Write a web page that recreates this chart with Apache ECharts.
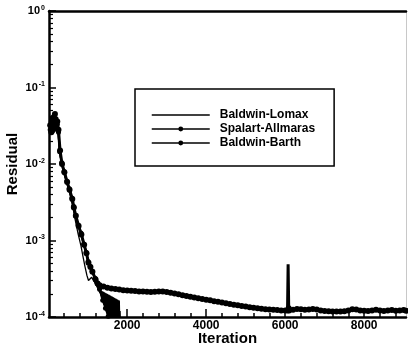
<!DOCTYPE html>
<html>
<head>
<meta charset="utf-8">
<script src="https://cdn.jsdelivr.net/npm/echarts@6/dist/echarts.min.js"></script>
<style>html,body{margin:0;padding:0;background:#fff;}#c{width:408px;height:349px;}</style>
</head>
<body>
<div id="c"></div>
<script>
// ---- data ----
const seriesNames = ['Baldwin-Lomax', 'Spalart-Allmaras', 'Baldwin-Barth'];
const xTickLabels = [2000, 4000, 6000, 8000];
const xMinorTicks = [400, 800, 1200, 1600, 2400, 2800, 3200, 3600, 4400, 4800, 5200, 5600, 6400, 6800, 7200, 7600, 8400, 8800];
const yDecades = [1e-4, 1e-3, 1e-2, 1e-1, 1];

const lomaxIter = [50, 70, 100, 130, 160, 190, 220, 250, 290, 340, 400, 470, 540, 610, 680, 760, 830, 880, 930, 980, 1020, 1060, 1100, 1150, 1200, 1240,
  1260, 1270, 1280, 1290, 1300, 1310, 1320, 1330, 1340, 1350, 1360, 1370, 1380, 1390, 1400, 1410, 1420, 1430, 1440, 1450, 1460, 1470, 1480, 1490, 1500, 1510, 1520, 1530,
  1540, 1550, 1560, 1570, 1580, 1590, 1600, 1610, 1620, 1630, 1640, 1650, 1660, 1670, 1680, 1690, 1700, 1710, 1720, 1730, 1740, 1750, 1760, 1770, 1780, 1790, 1800, 1810, 1820, 1830];
const lomaxRes = [3.5e-2, 2.5e-2, 3.8e-2, 2.6e-2, 3.4e-2, 2.7e-2, 3.7e-2, 2.5e-2, 1.4e-2, 1.0e-2, 7.5e-3, 5.6e-3, 4.2e-3, 3.0e-3, 1.9e-3, 1.2e-3, 8.5e-4, 6.2e-4, 4.6e-4, 3.5e-4, 3.0e-4, 3.1e-4, 3.3e-4, 3.0e-4, 2.7e-4, 2.6e-4,
  2.34e-4, 2.35e-4, 2.31e-4, 2.19e-4, 2.28e-4, 2.05e-4, 2.25e-4, 1.91e-4, 2.22e-4, 1.79e-4, 2.19e-4, 1.67e-4, 2.16e-4, 1.56e-4, 2.14e-4, 1.46e-4, 2.11e-4, 1.36e-4, 2.08e-4, 1.27e-4, 2.05e-4, 1.19e-4, 2.03e-4, 1.11e-4, 2.0e-4, 1.04e-4, 1.97e-4, 9e-5,
  1.95e-4, 9e-5, 1.92e-4, 9e-5, 1.9e-4, 9e-5, 1.87e-4, 9e-5, 1.85e-4, 9e-5, 1.82e-4, 9e-5, 1.8e-4, 9e-5, 1.77e-4, 9e-5, 1.75e-4, 9e-5, 1.73e-4, 9e-5, 1.71e-4, 9e-5, 1.68e-4, 9e-5, 1.66e-4, 9e-5, 1.64e-4, 9e-5, 1.2e-4, 8e-5];

const saIter = [50, 80, 110, 140, 170, 200, 230, 260, 290, 340, 400, 470, 530, 600, 640, 690, 760, 830, 900, 960, 1010, 1060, 1110, 1190, 1240, 1300, 1380, 1450, 1520, 1580];
const saRes = [2.8e-2, 3.6e-2, 2.7e-2, 4.2e-2, 3.1e-2, 3.9e-2, 3.3e-2, 2.6e-2, 1.45e-2, 1.05e-2, 8.0e-3, 6.0e-3, 4.8e-3, 3.6e-3, 2.8e-3, 2.1e-3, 1.6e-3, 1.25e-3, 9.0e-4, 7.0e-4, 5.3e-4, 4.6e-4, 4.0e-4, 3.2e-4, 2.8e-4, 2.3e-4, 1.65e-4, 1.3e-4, 1.02e-4, 8.5e-5];

const bbIter = [50, 80, 110, 140, 170, 200, 230, 260, 300, 350, 410, 480, 540, 610, 650, 700, 770, 840, 910, 970, 1020, 1070, 1120, 1200, 1250,
  1300, 1400, 1500, 1600, 1700, 1800, 1900, 2000, 2100, 2200, 2300, 2400, 2500, 2600, 2700, 2800, 2900, 3000, 3100, 3200, 3300, 3400, 3500, 3600, 3700, 3800, 3900,
  4000, 4100, 4200, 4300, 4400, 4500, 4600, 4700, 4800, 4900, 5000, 5100, 5200, 5300, 5400, 5500, 5600, 5700, 5800, 5900, 6000, 6060, 6075, 6090, 6100,
  6200, 6300, 6400, 6500, 6600, 6700, 6800, 6900, 7000, 7100, 7200, 7300, 7400, 7500, 7600, 7700, 7800, 7900, 8000, 8100, 8200, 8300, 8400, 8500, 8600, 8700, 8800, 8900, 9000, 9060];
const bbRes = [3.2e-2, 2.6e-2, 4.0e-2, 3.0e-2, 4.5e-2, 2.9e-2, 3.6e-2, 2.8e-2, 1.5e-2, 1.0e-2, 7.8e-3, 5.8e-3, 4.6e-3, 3.5e-3, 2.7e-3, 2.1e-3, 1.55e-3, 1.2e-3, 8.8e-4, 6.8e-4, 5.1e-4, 4.5e-4, 3.9e-4, 3.1e-4, 2.75e-4,
  2.6e-4, 2.5e-4, 2.42e-4, 2.36e-4, 2.32e-4, 2.28e-4, 2.24e-4, 2.22e-4, 2.2e-4, 2.18e-4, 2.16e-4, 2.15e-4, 2.14e-4, 2.13e-4, 2.14e-4, 2.16e-4, 2.15e-4, 2.12e-4, 2.08e-4, 2.03e-4, 1.98e-4, 1.93e-4, 1.88e-4, 1.84e-4, 1.8e-4, 1.76e-4, 1.72e-4,
  1.68e-4, 1.65e-4, 1.61e-4, 1.58e-4, 1.55e-4, 1.51e-4, 1.48e-4, 1.45e-4, 1.42e-4, 1.39e-4, 1.37e-4, 1.34e-4, 1.32e-4, 1.3e-4, 1.28e-4, 1.26e-4, 1.25e-4, 1.24e-4, 1.23e-4, 1.22e-4, 1.22e-4, 1.22e-4, 4.9e-4, 1.3e-4, 1.22e-4,
  1.24e-4, 1.27e-4, 1.26e-4, 1.24e-4, 1.25e-4, 1.27e-4, 1.25e-4, 1.22e-4, 1.2e-4, 1.19e-4, 1.18e-4, 1.18e-4, 1.18e-4, 1.19e-4, 1.22e-4, 1.26e-4, 1.25e-4, 1.22e-4, 1.21e-4, 1.2e-4, 1.22e-4, 1.24e-4, 1.22e-4, 1.2e-4, 1.22e-4, 1.23e-4, 1.21e-4, 1.22e-4, 1.23e-4, 1.21e-4];

// ---- build ----
const pairs = (xs, ys) => xs.map((x, i) => [x, ys[i]]);
const yMinor = [];
[-4, -3, -2, -1].forEach(d => { for (let k = 2; k <= 9; k++) yMinor.push(+(k * Math.pow(10, d)).toPrecision(3)); });

const FONT = 'Liberation Sans';
const chart = echarts.init(document.getElementById('c'), null, { renderer: 'canvas' });
const xCommon = { type: 'value', min: 20, max: 9060, splitLine: { show: false } };
const yCommon = { type: 'log', logBase: 10, min: 1e-4, max: 1, splitLine: { show: false } };

chart.setOption({
  animation: false,
  backgroundColor: '#fff',
  grid: { left: 49, right: 2, top: 11, bottom: 32, containLabel: false, outerBoundsMode: 'none' },
  legend: {
    data: [
      { name: seriesNames[0], itemStyle: { color: 'rgba(0,0,0,0)', borderWidth: 0 } },
      { name: seriesNames[1] },
      { name: seriesNames[2] }
    ],
    orient: 'vertical',
    left: 135, top: 89,
    itemWidth: 58, itemHeight: 6, itemGap: 0,
    padding: [19, 19, 16, 16],
    borderColor: '#000', borderWidth: 1.5,
    lineStyle: { width: 1.5 },
    textStyle: { fontFamily: FONT, fontWeight: 'bold', fontSize: 12, color: '#000', lineHeight: 14, padding: [0, 0, 0, 5] }
  },
  xAxis: [
    Object.assign({}, xCommon, {
      position: 'bottom',
      name: 'Iteration', nameLocation: 'middle', nameGap: 14, nameMoveOverlap: false,
      nameTextStyle: { fontFamily: FONT, fontWeight: 'bold', fontSize: 15, color: '#000' },
      axisLine: { show: true, lineStyle: { color: '#000', width: 2.5 } },
      axisTick: { show: true, inside: true, length: 8, customValues: xTickLabels, lineStyle: { color: '#000', width: 1.5 } },
      axisLabel: { show: true, customValues: xTickLabels, margin: 3, formatter: v => String(v), fontFamily: FONT, fontWeight: 'bold', fontSize: 12, color: '#000' }
    }),
    Object.assign({}, xCommon, {
      position: 'bottom',
      axisLine: { show: false },
      axisTick: { show: true, inside: true, length: 4, customValues: xMinorTicks, lineStyle: { color: '#000', width: 1.5 } },
      axisLabel: { show: false }
    }),
    Object.assign({}, xCommon, {
      position: 'top',
      axisLine: { show: true, onZero: false, lineStyle: { color: '#000', width: 2.5 } },
      axisTick: { show: false }, axisLabel: { show: false }
    })
  ],
  yAxis: [
    Object.assign({}, yCommon, {
      position: 'left',
      name: 'Residual', nameLocation: 'middle', nameGap: 29, nameRotate: 90, nameMoveOverlap: false,
      nameTextStyle: { fontFamily: FONT, fontWeight: 'bold', fontSize: 15, color: '#000' },
      axisLine: { show: true, lineStyle: { color: '#000', width: 2.5 } },
      axisTick: { show: true, inside: true, length: 7, customValues: yDecades, lineStyle: { color: '#000', width: 1.5 } },
      axisLabel: {
        show: true, customValues: yDecades, margin: 4,
        formatter: v => '{b|10}{s|' + Math.round(Math.log10(v)) + '}',
        rich: {
          b: { fontFamily: FONT, fontWeight: 'bold', fontSize: 11, color: '#000', lineHeight: 13 },
          s: { fontFamily: FONT, fontWeight: 'bold', fontSize: 7, color: '#000', lineHeight: 7, verticalAlign: 'top', padding: [0, 0, 0, 1] }
        }
      }
    }),
    Object.assign({}, yCommon, {
      position: 'left',
      axisLine: { show: false },
      axisTick: { show: true, inside: true, length: 4, customValues: yMinor, lineStyle: { color: '#000', width: 1.2 } },
      axisLabel: { show: false }
    }),
    Object.assign({}, yCommon, {
      position: 'right',
      axisLine: { show: true, lineStyle: { color: '#c8c8c8', width: 1 } },
      axisTick: { show: false }, axisLabel: { show: false }
    })
  ],
  series: [
    {
      name: seriesNames[2], type: 'line', xAxisIndex: 0, yAxisIndex: 0,
      data: pairs(bbIter, bbRes),
      symbol: 'circle',
      symbolSize: (v) => (v[1] > 4e-4 && v[0] > 5000 ? 0 : 6),
      showAllSymbol: true,
      lineStyle: { color: '#000', width: 3 }, itemStyle: { color: '#000' }, clip: true
    },
    {
      name: seriesNames[1], type: 'line', xAxisIndex: 0, yAxisIndex: 0,
      data: pairs(saIter, saRes),
      symbol: 'circle', symbolSize: 5, showAllSymbol: true,
      lineStyle: { color: '#000', width: 2 }, itemStyle: { color: '#000' }, clip: true
    },
    {
      name: seriesNames[0], type: 'line', xAxisIndex: 0, yAxisIndex: 0,
      data: pairs(lomaxIter, lomaxRes),
      symbol: 'none',
      lineStyle: { color: '#000', width: 1.3 }, itemStyle: { color: '#000' }, clip: true
    }
  ]
});
</script>
</body>
</html>
